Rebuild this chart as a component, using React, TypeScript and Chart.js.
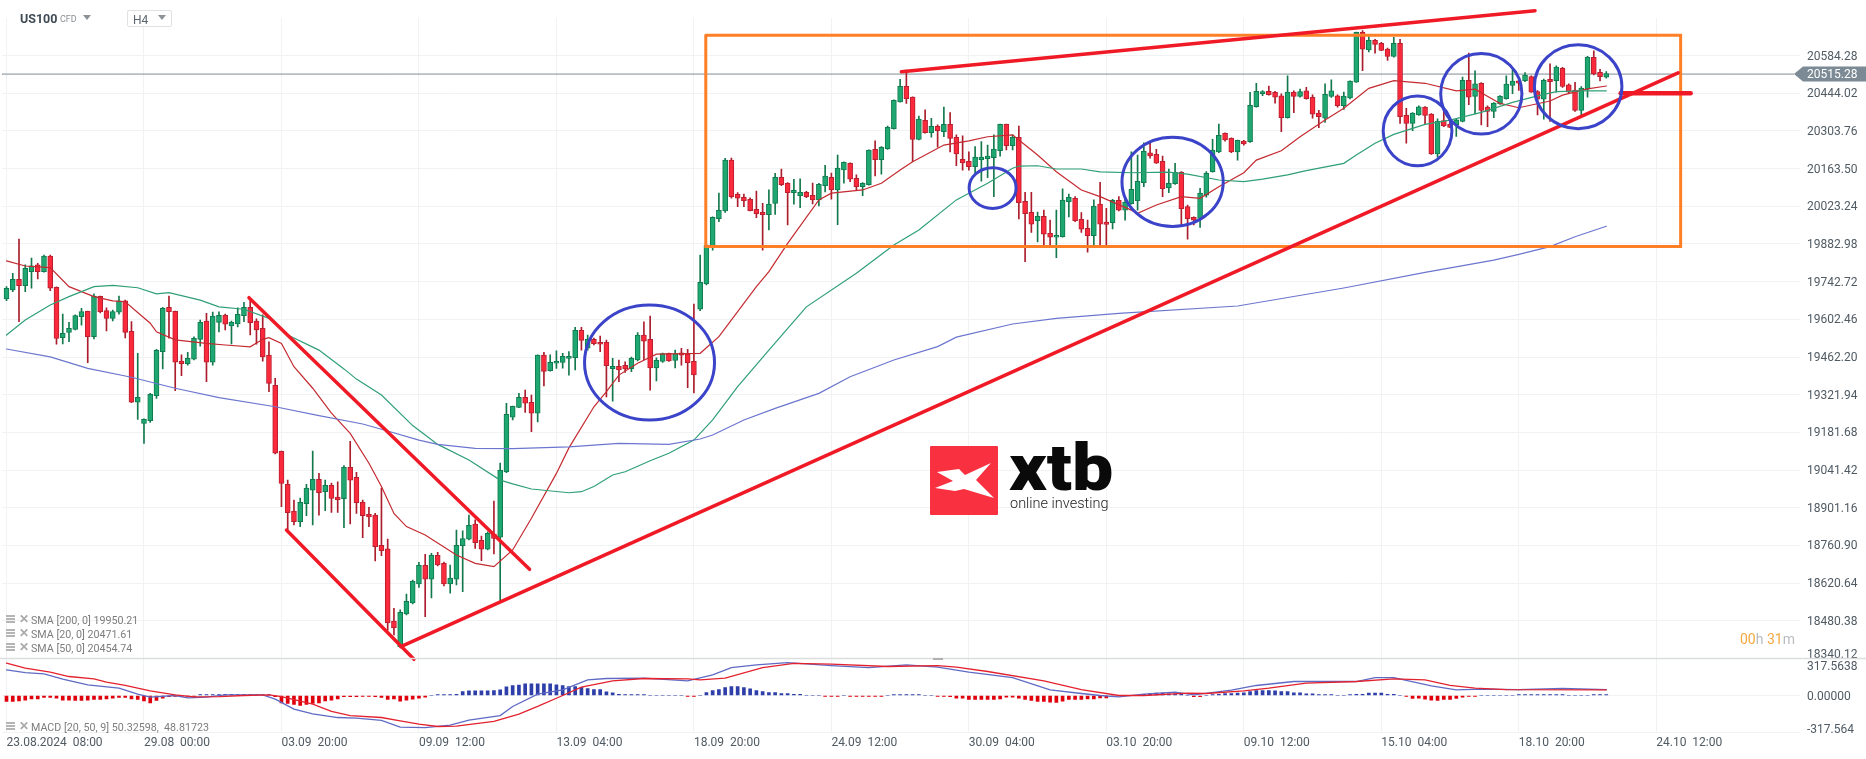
import React, { useEffect, useRef } from "react";
import { Chart, registerables } from "chart.js";

Chart.register(...registerables);

const FONT = "Roboto";
const GRID = "#f1f2f3";
const TEXT = "#4f5a63";

const xTickIndex = [0, 22, 44, 66, 88, 110, 132, 154, 176, 198, 220, 242, 264];
const xTickLabels = [
  "23.08.2024  08:00", "29.08  00:00", "03.09  20:00", "09.09  12:00", "13.09  04:00", "18.09  20:00",
  "24.09  12:00", "30.09  04:00", "03.10  20:00", "09.10  12:00", "15.10  04:00", "18.10  20:00", "24.10  12:00",
];
const priceTicks = [
  20584.28, 20444.02, 20303.76, 20163.5, 20023.24, 19882.98, 19742.72, 19602.46, 19462.2,
  19321.94, 19181.68, 19041.42, 18901.16, 18760.9, 18620.64, 18480.38, 18340.12,
];
const currentPrice = 20515.28;

const opens = [
  19678,19712,19751,19728,19780,19805,19780,19838,19722,19534,
  19554,19565,19612,19632,19538,19688,19635,19606,19629,19671,
  19558,19294,19215,19225,19318,19482,19647,19632,19447,19437,
  19454,19528,19596,19443,19591,19617,19578,19585,19616,19647,
  19596,19569,19469,19357,19111,18988,18889,18849,18916,18967,
  19007,18961,18985,18941,18935,19052,19014,18921,18877,18874,
  18761,18748,18479,18384,18506,18547,18618,18687,18635,18724,
  18694,18618,18635,18760,18784,18840,18780,18747,18803,18792,
  19035,19238,19275,19312,19294,19253,19469,19411,19439,19442,
  19457,19460,19562,19495,19528,19517,19517,19419,19428,19431,
  19419,19451,19544,19528,19422,19446,19476,19450,19478,19473,
  19446,19640,19734,19873,19977,20006,20195,20068,20057,20049,
  20012,20001,19992,20034,20131,20109,20074,20063,20075,20064,
  20047,20100,20131,20084,20159,20183,20127,20096,20104,20235,
  20197,20238,20312,20412,20470,20430,20272,20343,20297,20321,
  20301,20328,20280,20198,20191,20171,20197,20200,20204,20230,
  20328,20249,20280,20042,20001,19970,19986,19923,19908,19910,
  20040,20053,19975,19941,19914,20031,19964,19962,20045,20009,
  20033,20044,20111,20222,20217,20191,20092,20107,20150,20022,
  19982,19978,20065,20152,20226,20295,20276,20226,20266,20264,
  20394,20442,20451,20447,20434,20353,20448,20432,20453,20429,
  20370,20351,20432,20434,20398,20427,20485,20671,20605,20641,
  20630,20608,20581,20630,20362,20332,20363,20392,20366,20218,
  20342,20329,20326,20339,20492,20432,20481,20392,20376,20404,
  20424,20473,20490,20491,20506,20450,20422,20496,20491,20537,
  20475,20456,20380,20459,20578,20522,20504,
];
const highs = [
  19724,19774,19901,19805,19830,19811,19842,19842,19723,19622,
  19591,19619,19643,19633,19697,19689,19645,19637,19689,19674,
  19594,19476,19232,19327,19491,19647,19689,19633,19470,19480,
  19537,19600,19625,19629,19630,19622,19596,19645,19666,19674,
  19604,19619,19519,19383,19112,19004,18930,18937,18988,19112,
  19029,19004,18993,18998,19058,19148,19033,18930,18903,18880,
  18974,18785,18527,18521,18580,18632,18698,18728,18732,18735,
  18699,18688,18818,18815,18874,18856,18796,18812,18926,19067,
  19290,19280,19327,19339,19321,19470,19480,19470,19485,19476,
  19482,19573,19573,19544,19533,19540,19525,19457,19451,19444,
  19462,19553,19593,19615,19459,19477,19477,19488,19495,19491,
  19659,19842,19882,19984,20072,20202,20203,20074,20069,20055,
  20080,20034,20084,20146,20162,20111,20124,20125,20079,20110,
  20109,20176,20147,20214,20189,20185,20140,20111,20233,20267,
  20245,20322,20419,20496,20530,20431,20359,20382,20351,20326,
  20392,20372,20289,20285,20226,20245,20264,20251,20289,20329,
  20329,20289,20322,20075,20075,20002,20009,19972,20009,20088,
  20069,20059,20000,19972,20047,20112,20016,20049,20059,20059,
  20226,20214,20259,20258,20235,20210,20162,20183,20152,20028,
  19984,20090,20152,20272,20329,20297,20278,20270,20269,20447,
  20481,20454,20471,20451,20442,20509,20453,20459,20466,20438,
  20380,20479,20494,20438,20448,20490,20672,20677,20655,20645,
  20633,20612,20652,20645,20388,20372,20397,20394,20368,20349,
  20380,20339,20347,20504,20593,20527,20484,20397,20409,20435,
  20509,20531,20494,20521,20509,20454,20497,20553,20546,20540,
  20479,20485,20469,20581,20602,20533,20525,
];
const lows = [
  19672,19705,19594,19705,19718,19753,19778,19709,19510,19511,
  19519,19563,19581,19441,19530,19626,19559,19597,19622,19533,
  19292,19230,19141,19219,19308,19418,19532,19337,19393,19432,
  19451,19503,19370,19432,19556,19563,19511,19574,19594,19544,
  19510,19447,19333,19102,18905,18818,18837,18831,18872,18837,
  18874,18890,18884,18884,18827,18841,18880,18790,18831,18703,
  18723,18446,18428,18383,18502,18543,18605,18496,18566,18685,
  18610,18583,18614,18589,18781,18750,18704,18744,18729,18551,
  19032,19228,19274,19256,19184,19221,19355,19410,19420,19421,
  19395,19414,19488,19488,19507,19482,19314,19298,19370,19405,
  19408,19448,19451,19339,19373,19442,19446,19422,19432,19348,
  19329,19635,19731,19860,19966,20000,20053,20022,20022,20006,
  19981,19860,19935,19993,20100,19954,20031,20018,20055,20032,
  20025,20077,20050,19955,20109,20115,20084,20063,20102,20136,
  20143,20235,20310,20411,20406,20189,20270,20295,20280,20243,
  20282,20226,20174,20158,20158,20146,20117,20130,20059,20210,
  20233,20233,19976,19817,19926,19891,19873,19873,19832,19908,
  19984,19966,19926,19852,19879,19873,19879,19939,20006,19972,
  20031,20009,20096,20202,20183,20059,20074,20105,19954,19901,
  19954,19945,20057,20150,20223,20266,20223,20195,20251,20261,
  20392,20435,20437,20407,20301,20351,20372,20429,20422,20351,
  20316,20335,20428,20392,20384,20423,20484,20528,20598,20593,
  20602,20566,20578,20332,20258,20305,20361,20330,20216,20206,
  20320,20316,20283,20337,20401,20367,20326,20320,20353,20402,
  20422,20442,20454,20487,20447,20363,20347,20339,20448,20466,
  20444,20376,20363,20429,20512,20490,20500,
];
const closes = [
  19718,19751,19728,19792,19802,19780,19838,19718,19531,19550,
  19569,19616,19631,19538,19689,19631,19606,19631,19671,19554,
  19294,19312,19230,19323,19487,19643,19631,19443,19437,19457,
  19532,19591,19443,19615,19617,19584,19591,19621,19647,19590,
  19563,19463,19364,19104,18992,18883,18849,18921,18974,19007,
  18957,18985,18936,18931,19052,19004,18920,18872,18867,18756,
  18741,18473,18454,18512,18553,18627,18687,18635,18724,18688,
  18618,18639,18761,18786,18836,18771,18747,18806,18787,19041,
  19249,19279,19312,19290,19253,19469,19409,19442,19446,19465,
  19465,19562,19524,19528,19512,19510,19430,19428,19414,19418,
  19457,19544,19521,19422,19450,19475,19448,19475,19469,19441,
  19396,19740,19879,19982,20008,20195,20059,20053,20044,20007,
  19996,19992,20031,20131,20104,20074,20083,20075,20059,20047,
  20105,20136,20084,20165,20187,20124,20096,20109,20232,20197,
  20243,20317,20418,20470,20424,20272,20348,20297,20321,20305,
  20328,20276,20218,20185,20171,20206,20206,20210,20236,20328,
  20249,20280,20037,19996,19957,19986,19919,19908,19915,20046,
  20057,19970,19938,19914,20024,19957,19956,20045,20009,20039,
  20086,20116,20228,20211,20184,20089,20109,20150,20014,19977,
  19972,20072,20146,20232,20287,20270,20226,20269,20255,20399,
  20451,20450,20439,20429,20353,20448,20432,20450,20424,20366,
  20357,20440,20453,20398,20433,20489,20671,20608,20641,20626,
  20603,20581,20630,20357,20332,20370,20393,20361,20218,20339,
  20322,20317,20345,20492,20429,20479,20380,20376,20407,20433,
  20478,20489,20481,20512,20448,20422,20492,20487,20541,20469,
  20448,20380,20463,20578,20516,20506,20517,
];

// moving averages at the candle numbers in the *At lists
const sma200At = [0,7,13,20,27,34,43,50,57,61,66,69,75,81,90,98,106,111,113,118,123,130,135,142,149,152,161,168,178,197,214,227,238,242,247,251,256];
const sma200 = [19492,19463,19420,19387,19346,19311,19277,19244,19213,19187,19153,19137,19122,19121,19128,19141,19137,19157,19172,19228,19271,19327,19389,19451,19501,19536,19585,19606,19625,19652,19719,19777,19823,19844,19873,19910,19949];
const sma50At = [0,3,7,10,14,17,21,24,26,31,34,38,42,45,50,54,56,60,65,69,74,79,81,84,90,92,94,97,99,103,106,110,113,117,122,128,136,142,146,152,157,161,162,165,168,172,175,180,186,189,194,198,201,205,208,214,216,219,222,227,231,236,241,245,248,252,256];
const sma50 = [19544,19600,19656,19687,19724,19729,19720,19697,19702,19674,19649,19640,19606,19544,19488,19418,19380,19321,19207,19137,19079,19004,18990,18971,18957,18961,18980,19023,19035,19076,19104,19153,19228,19352,19488,19649,19774,19879,19935,20047,20109,20165,20173,20174,20162,20162,20151,20148,20150,20143,20121,20115,20124,20140,20156,20183,20214,20258,20291,20328,20344,20373,20410,20434,20450,20453,20453];
const sma20At = [0,3,7,10,14,17,19,23,24,27,32,35,39,41,42,44,46,49,52,55,58,60,62,64,67,72,75,78,81,84,88,90,94,96,98,101,104,111,114,120,122,125,130,132,137,140,143,145,150,154,157,161,163,165,168,172,175,180,181,184,188,191,194,198,200,204,207,211,214,218,222,227,232,235,239,242,247,249,253,256];
const sma20 = [19820,19801,19795,19724,19687,19671,19668,19588,19556,19526,19513,19507,19500,19528,19534,19513,19426,19346,19253,19178,19067,18980,18880,18831,18800,18725,18694,18682,18744,18862,19029,19124,19277,19333,19395,19439,19473,19476,19538,19724,19780,19885,20047,20072,20084,20109,20158,20189,20251,20267,20282,20289,20251,20214,20152,20084,20059,20009,19997,20028,20059,20053,20096,20148,20195,20230,20282,20344,20388,20462,20491,20481,20453,20459,20406,20390,20415,20437,20460,20471];

// MACD panel
const macdAt = [0,3,6,9,13,18,21,23,27,29,32,35,41,43,46,49,53,56,60,63,67,71,74,79,81,85,89,93,96,102,109,113,116,120,125,132,138,144,149,154,161,167,172,175,178,182,187,190,196,200,206,216,219,222,228,232,236,242,249,256];
const macdLine = [220,197,186,140,92,63,11,-14,0,-20,-14,6,6,-31,-117,-157,-189,-194,-214,-272,-275,-255,-212,-172,-94,11,49,134,146,149,126,177,240,263,283,257,240,263,243,200,154,49,17,0,-11,11,29,6,46,86,120,120,154,154,83,49,54,51,60,50];
const signalAt = [0,3,7,10,14,16,19,23,27,30,34,38,42,44,49,52,55,60,63,66,69,72,78,82,85,89,92,97,102,109,111,115,121,126,132,141,149,152,157,166,172,178,182,189,192,198,202,208,216,222,227,231,235,240,256];
const signalLine = [277,235,200,163,143,114,86,40,6,-11,-9,0,6,-9,-74,-137,-172,-189,-217,-246,-266,-263,-223,-160,-94,0,71,126,146,143,134,149,240,275,269,249,257,243,206,126,51,0,0,20,17,40,63,106,120,143,134,86,63,51,49];
const histogram = [
  -51,-51,-46,-40,-29,-29,-17,-17,-23,-40,
  -40,-43,-43,-40,-34,-34,-29,-23,-17,-17,
  -29,-34,-46,-63,-43,-23,-11,-8,-8,-8,
  -8,8,8,8,8,10,10,8,8,8,
  8,8,8,-11,-63,-69,-77,-86,-77,-69,
  -63,-46,-40,-29,-11,-9,-9,-8,-8,-11,
  -17,-34,-29,-49,-40,-31,-23,-14,0,8,
  8,8,10,34,40,40,40,40,43,49,
  74,86,89,100,100,100,100,100,92,86,
  77,77,71,60,51,51,31,23,11,8,
  8,8,8,0,0,0,0,0,0,-8,
  -8,0,26,43,51,69,77,77,69,57,
  43,34,26,26,17,17,9,9,0,0,
  0,-8,-8,-8,0,-8,-8,-8,-8,-8,
  -8,0,8,8,8,8,8,0,0,-8,
  -8,-11,-23,-23,-34,-34,-34,-34,-34,-29,
  -14,-14,-23,-34,-43,-51,-51,-57,-60,-49,
  -34,-34,-34,-29,-29,-20,-20,-8,0,0,
  0,0,9,17,20,20,14,11,9,0,
  -9,-9,0,8,9,17,17,20,23,34,
  43,43,43,40,34,34,23,23,14,14,
  8,8,8,0,0,8,11,11,20,20,
  20,11,11,0,-8,-26,-23,-31,-40,-43,
  -34,-34,-26,-14,-8,-8,0,0,0,0,
  0,0,8,8,8,8,8,8,8,8,
  0,0,0,0,8,8,8,
];
const macdTicks = [317.5638, 0, -317.564];

// hand drawn marks on the chart, in candle number / price
const boxAt = [111.9, 267.9, 267.9, 111.9, 111.9];
const boxPrice = [20660, 20660, 19874, 19874, 20660];
const redLines = [
  { at: [38.8, 83.7], price: [19683, 18672], width: 3.5 },
  { at: [44.8, 65.2], price: [18818, 18337], width: 3.5 },
  { at: [63.1, 267.5], price: [18384, 20520], width: 3.5 },
  { at: [143.2, 244.6], price: [20524, 20751], width: 3.5 },
  { at: [258.3, 269.5], price: [20444, 20444], width: 4.5 },
];
const circles = [
  { at: 102.9, price: 19442, rAt: 10.4, rPrice: 214 },
  { at: 157.8, price: 20091, rAt: 3.76, rPrice: 75.6 },
  { at: 186.6, price: 20114, rAt: 8.1, rPrice: 166 },
  { at: 225.8, price: 20304, rAt: 5.5, rPrice: 130 },
  { at: 236, price: 20442, rAt: 6.5, rPrice: 150 },
  { at: 251.5, price: 20468, rAt: 7, rPrice: 156 },
];

const pairs = (at: number[], vals: number[]) => at.map((x, k) => ({ x, y: vals[k] }));
const isUp = (i: number) => closes[i] >= opens[i];

const lineSet = (data: any[], color: string, width: number, order: number) => ({
  type: "line" as const,
  data,
  borderColor: color,
  borderWidth: width,
  borderCapStyle: "round",
  pointRadius: 0,
  tension: 0,
  order,
  clip: false as any,
});

const xScale = (showLabels: boolean) => ({
  type: "linear" as const,
  offset: false,
  min: -0.72,
  max: 287,
  afterBuildTicks: (s: any) => {
    s.ticks = xTickIndex.map((value) => ({ value }));
  },
  afterFit: (s: any) => {
    s.height = showLabels ? 26.5 : 0;
  },
  grid: { color: GRID, drawTicks: false, offset: false },
  border: { display: false },
  ticks: {
    display: showLabels,
    autoSkip: false,
    maxRotation: 0,
    align: "start" as const,
    padding: 3,
    color: TEXT,
    font: { family: FONT, size: 12 },
    callback: (v: any) => xTickLabels[xTickIndex.indexOf(v)] ?? "",
  },
});

const sideText = (ctx: CanvasRenderingContext2D, text: string, x: number, y: number, color = TEXT) => {
  ctx.save();
  ctx.font = `12px ${FONT}`;
  ctx.fillStyle = color;
  ctx.textAlign = "left";
  ctx.textBaseline = "middle";
  ctx.fillText(text, x, y);
  ctx.restore();
};

const priceMarks = {
  id: "priceMarks",
  afterDatasetsDraw(chart: any) {
    const { ctx, scales, chartArea, width } = chart;
    const { x, y } = scales;
    ctx.save();
    ctx.strokeStyle = "#3b43c9";
    ctx.lineWidth = 3;
    circles.forEach((c) => {
      ctx.beginPath();
      ctx.ellipse(
        x.getPixelForValue(c.at),
        y.getPixelForValue(c.price),
        Math.abs(x.getPixelForValue(c.at + c.rAt) - x.getPixelForValue(c.at)),
        Math.abs(y.getPixelForValue(c.price + c.rPrice) - y.getPixelForValue(c.price)),
        0, 0, Math.PI * 2
      );
      ctx.stroke();
    });
    // current price tag
    const py = y.getPixelForValue(currentPrice);
    const left = chartArea.right - 6;
    ctx.fillStyle = "#7b8a94";
    ctx.beginPath();
    ctx.moveTo(left, py);
    ctx.lineTo(left + 9, py - 7.5);
    ctx.lineTo(width, py - 7.5);
    ctx.lineTo(width, py + 7.5);
    ctx.lineTo(left + 9, py + 7.5);
    ctx.closePath();
    ctx.fill();
    ctx.restore();
    sideText(ctx, currentPrice.toFixed(2), chartArea.right + 7, py + 1, "#ffffff");
    sideText(ctx, priceTicks[priceTicks.length - 1].toFixed(2), chartArea.right + 7, y.getPixelForValue(18340.12) - 4);
  },
};

const macdMarks = {
  id: "macdMarks",
  afterDatasetsDraw(chart: any) {
    const { ctx, scales, chartArea, width } = chart;
    ctx.save();
    ctx.strokeStyle = "#dcdddd";
    ctx.lineWidth = 1.5;
    ctx.beginPath();
    ctx.moveTo(0, chartArea.top);
    ctx.lineTo(width, chartArea.top);
    ctx.stroke();
    ctx.restore();
    const offsets = [8, 2, -3];
    const labels = ["317.5638", "0.00000", "-317.564"];
    macdTicks.forEach((t, k) => {
      sideText(ctx, labels[k], chartArea.right + 7, scales.y.getPixelForValue(t) + offsets[k]);
    });
  },
};

const LegendRow: React.FC<{ top: number; text: string }> = ({ top, text }) => (
  <div style={{ position: "absolute", left: 6, top, height: 12, color: "#7d7d7d", fontSize: 10.7, lineHeight: "12px", whiteSpace: "pre" }}>
    <span style={{ position: "absolute", left: 0, top: 1, width: 9, height: 2, background: "#b5b5b5", boxShadow: "0 3px 0 #b5b5b5, 0 6px 0 #b5b5b5" }} />
    <span style={{ position: "absolute", left: 13, top: -1, color: "#a9a9a9", fontWeight: 700, fontSize: 12 }}>✕</span>
    <span style={{ position: "absolute", left: 25, top: 1 }}>{text}</span>
  </div>
);

const App: React.FC = () => {
  const priceRef = useRef<HTMLCanvasElement>(null);
  const macdRef = useRef<HTMLCanvasElement>(null);

  useEffect(() => {
    if (!priceRef.current || !macdRef.current) return;

    const price = new Chart(priceRef.current, {
      type: "bar",
      data: {
        datasets: [
          {
            label: "wick",
            data: highs.map((h, i) => ({ x: i, y: [lows[i], h] })) as any,
            backgroundColor: highs.map((_, i) => (isUp(i) ? "#13794c" : "#ab1d2c")),
            barThickness: 1,
            grouped: false,
            order: 5,
          },
          {
            label: "body",
            data: opens.map((o, i) => ({ x: i, y: [o, closes[i]] })) as any,
            backgroundColor: opens.map((_, i) => (isUp(i) ? "#1fa771" : "#fa2a3c")),
            borderColor: opens.map((_, i) => (isUp(i) ? "#0f7b4e" : "#b81f2f")),
            borderWidth: 1,
            borderSkipped: false,
            barThickness: 5,
            grouped: false,
            order: 4,
          },
          lineSet([{ x: -0.72, y: currentPrice }, { x: 286, y: currentPrice }], "#7f8c94", 1, 6),
          lineSet(pairs(sma200At, sma200), "#6c76cf", 1.2, 3),
          lineSet(pairs(sma50At, sma50), "#2f9f76", 1.2, 3),
          lineSet(pairs(sma20At, sma20), "#c42a30", 1.2, 3),
          lineSet(pairs(boxAt, boxPrice), "#ff7f27", 3, 2),
          ...redLines.map((l) => lineSet(pairs(l.at, l.price), "#f01a26", l.width, 1)),
        ] as any,
      },
      options: {
        animation: false,
        responsive: false,
        layout: { padding: { left: 2, top: 18, bottom: 31.5, right: 0 } },
        plugins: { legend: { display: false }, tooltip: { enabled: false } },
        scales: {
          x: xScale(false) as any,
          y: {
            position: "right",
            min: 18340.12,
            max: 20724,
            afterBuildTicks: (s: any) => {
              s.ticks = priceTicks.map((value) => ({ value }));
            },
            afterFit: (s: any) => {
              s.width = 66;
            },
            grid: { color: GRID, drawTicks: false },
            border: { display: false },
            ticks: {
              padding: 7,
              labelOffset: 1,
              color: TEXT,
              font: { family: FONT, size: 12 },
              callback: (v: any) => (v === 18340.12 ? "" : Number(v).toFixed(2)),
            },
          },
        },
      },
      plugins: [priceMarks],
    });

    const macd = new Chart(macdRef.current, {
      type: "bar",
      data: {
        datasets: [
          {
            label: "histogram",
            data: histogram.map((y, x) => ({ x, y })),
            backgroundColor: histogram.map((v) => (v >= 0 ? "#2f3fa9" : "#e0000c")),
            barThickness: 3,
            grouped: false,
            order: 3,
          },
          lineSet(pairs(macdAt, macdLine), "#5f6ac4", 1.3, 2),
          lineSet(pairs(signalAt, signalLine), "#e3222e", 1.3, 1),
        ] as any,
      },
      options: {
        animation: false,
        responsive: false,
        layout: { padding: { left: 2, top: 8.5, bottom: 0, right: 0 } },
        plugins: { legend: { display: false }, tooltip: { enabled: false } },
        scales: {
          x: xScale(true) as any,
          y: {
            position: "right",
            min: -317.564,
            max: 317.5638,
            afterBuildTicks: (s: any) => {
              s.ticks = macdTicks.map((value) => ({ value }));
            },
            afterFit: (s: any) => {
              s.width = 66;
            },
            grid: { color: GRID, drawTicks: false },
            border: { display: false },
            ticks: { display: false },
          },
        },
      },
      plugins: [macdMarks],
    });

    return () => {
      price.destroy();
      macd.destroy();
    };
  }, []);

  return (
    <div style={{ position: "absolute", left: 0, top: 0, width: 1866, height: 759, overflow: "hidden", background: "#fff", fontFamily: FONT }}>
      <canvas ref={priceRef} width={1866} height={690} style={{ position: "absolute", left: 0, top: 0 }} />
      <canvas ref={macdRef} width={1866} height={109} style={{ position: "absolute", left: 0, top: 650 }} />

      <div style={{ position: "absolute", left: 20, top: 11, fontSize: 12.5, lineHeight: "16px", fontWeight: 700, color: "#3f4b55" }}>US100</div>
      <div style={{ position: "absolute", left: 60, top: 14, fontSize: 9, lineHeight: "11px", color: "#8a8f94" }}>CFD</div>
      <div style={{ position: "absolute", left: 83, top: 15, width: 0, height: 0, borderLeft: "4px solid transparent", borderRight: "4px solid transparent", borderTop: "5px solid #8d9296" }} />
      <div style={{ position: "absolute", left: 127, top: 10, width: 43, height: 15, border: "1px solid #dfe1e3", borderRadius: 2, background: "#fff" }} />
      <div style={{ position: "absolute", left: 133, top: 13, fontSize: 12, lineHeight: "14px", color: "#5d666e" }}>H4</div>
      <div style={{ position: "absolute", left: 158, top: 15, width: 0, height: 0, borderLeft: "4px solid transparent", borderRight: "4px solid transparent", borderTop: "5px solid #8d9296" }} />

      <LegendRow top={614} text="SMA [200, 0] 19950.21" />
      <LegendRow top={628} text="SMA [20, 0] 20471.61" />
      <LegendRow top={642} text="SMA [50, 0] 20454.74" />
      <LegendRow top={721} text="MACD [20, 50, 9] 50.32598,  48.81723" />

      <div style={{ position: "absolute", left: 1740, top: 631, fontSize: 14, lineHeight: "16px", color: "#f6a83f", whiteSpace: "pre" }}>
        00<span style={{ color: "#b9bcc0" }}>h</span> 31<span style={{ color: "#b9bcc0" }}>m</span>
      </div>
      <div style={{ position: "absolute", left: 933, top: 658, width: 10, height: 2, background: "#b0b0b0" }} />

      <svg style={{ position: "absolute", left: 930, top: 446 }} width={68} height={69} viewBox="0 0 68 69">
        <rect width="68" height="69" rx="1" fill="#f93040" />
        <polygon points="7,26 29,23 35,29 61,17 46,34 64,52 34,43 25,45 5,42 23,35" fill="#ffffff" />
      </svg>
      <div style={{ position: "absolute", left: 1009, top: 434, fontSize: 65, lineHeight: "68px", fontWeight: 900, color: "#0a0a0a", transform: "scaleX(1.13)", transformOrigin: "left top" }}>xtb</div>
      <div style={{ position: "absolute", left: 1010, top: 495, fontSize: 14.5, lineHeight: "18px", fontWeight: 300, color: "#222", whiteSpace: "pre" }}>online investing</div>
    </div>
  );
};

export default App;
